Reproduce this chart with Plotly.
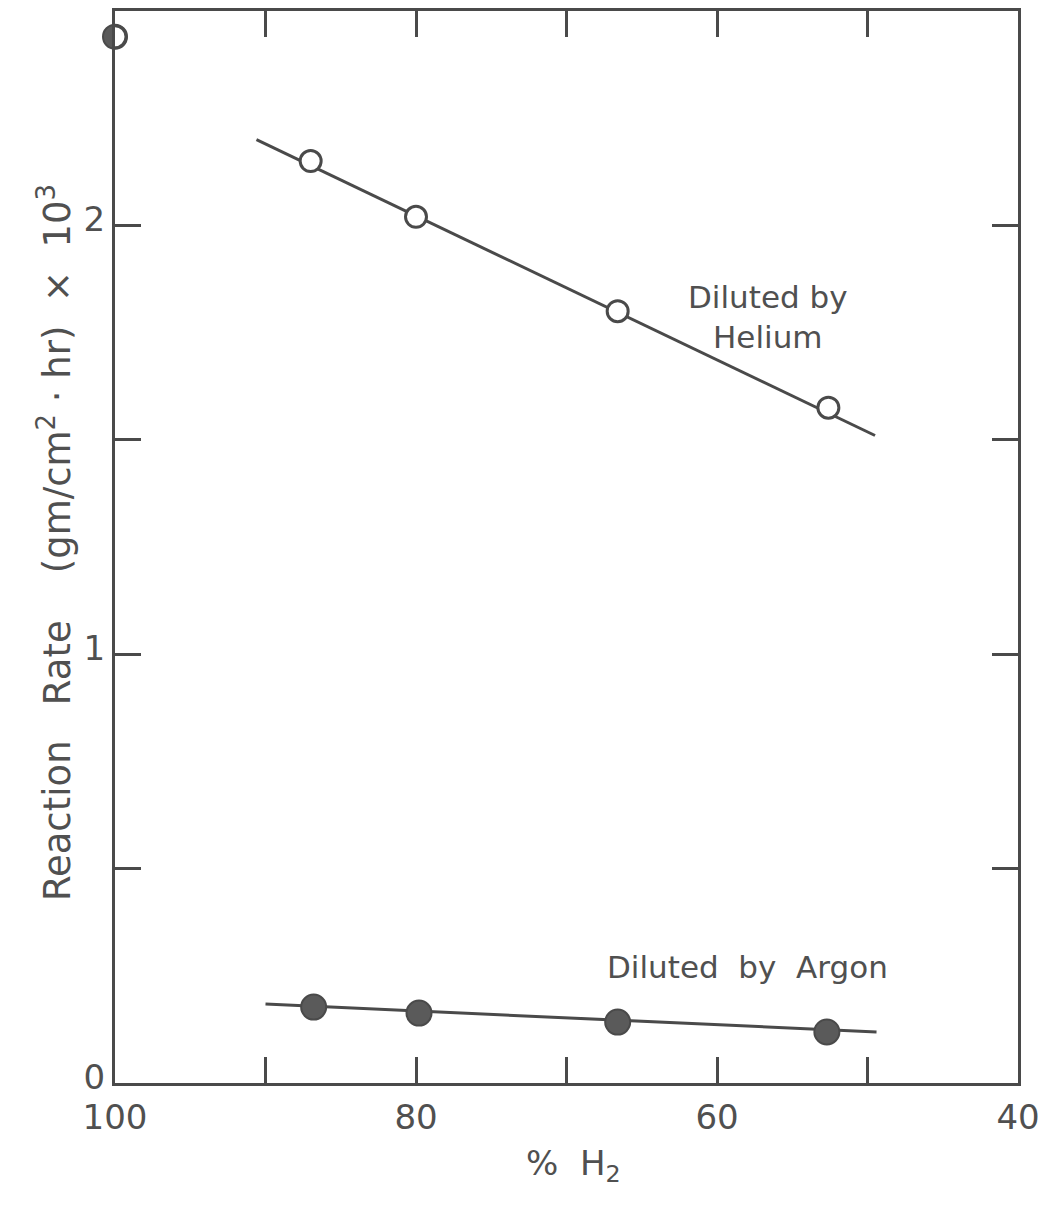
import plotly.graph_objects as go

# Data
helium_x = [87.0, 80.0, 66.6, 52.6]
helium_y = [2.15, 2.02, 1.80, 1.575]
helium_fit_x = [90.6, 49.5]
helium_fit_y = [2.20, 1.51]

argon_x = [86.8, 79.8, 66.6, 52.7]
argon_y = [0.177, 0.163, 0.142, 0.119]
argon_fit_x = [90.0, 49.4]
argon_fit_y = [0.184, 0.119]

pure_x = [100.0]
pure_y = [2.44]

x_tickvals = [100, 90, 80, 70, 60, 50, 40]
x_ticktext = ["100", "", "80", "", "60", "", "40"]
y_tickvals = [0, 0.5, 1, 1.5, 2, 2.5]
y_ticktext = ["0", "", "1", "", "2", ""]

INK = "#4a4a4a"
TXT = "#505050"
FONT = "DejaVu Sans"

fig = go.Figure()

fig.add_trace(go.Scatter(x=helium_fit_x, y=helium_fit_y, mode="lines",
                         line=dict(color=INK, width=3), showlegend=False))
fig.add_trace(go.Scatter(x=argon_fit_x, y=argon_fit_y, mode="lines",
                         line=dict(color=INK, width=3), showlegend=False))
fig.add_trace(go.Scatter(x=helium_x, y=helium_y, mode="markers",
                         marker=dict(symbol="circle", size=21, color="white",
                                     line=dict(color=INK, width=3)),
                         showlegend=False))
fig.add_trace(go.Scatter(x=argon_x, y=argon_y, mode="markers",
                         marker=dict(symbol="circle", size=25, color="#5a5a5a",
                                     line=dict(color=INK, width=2)),
                         showlegend=False))
# half-filled point at 100 % H2: filled circle unclipped, open circle clipped on top
fig.add_trace(go.Scatter(x=pure_x, y=pure_y, mode="markers", cliponaxis=False,
                         marker=dict(symbol="circle", size=24, color="#5a5a5a",
                                     line=dict(color=INK, width=2)),
                         showlegend=False))
fig.add_trace(go.Scatter(x=pure_x, y=pure_y, mode="markers", cliponaxis=True,
                         marker=dict(symbol="circle", size=22, color="white",
                                     line=dict(color=INK, width=3)),
                         showlegend=False))

fig.add_annotation(x=56.6, y=1.786, xref="x", yref="y", xanchor="center", yanchor="middle",
                   text="Diluted by<br>Helium", showarrow=False, align="center",
                   font=dict(family=FONT, size=31, color=TXT))
fig.add_annotation(x=58.0, y=0.27, xref="x", yref="y", xanchor="center", yanchor="middle",
                   text="Diluted  by  Argon", showarrow=False,
                   font=dict(family=FONT, size=31, color=TXT))

# axis titles
fig.add_annotation(x=-0.066, y=0.504, xref="paper", yref="paper", xanchor="center",
                   yanchor="middle", textangle=-90, showarrow=False,
                   text="Reaction   Rate    (gm/cm<sup>2</sup> · hr)  ×  10<sup>3</sup>",
                   font=dict(family=FONT, size=37, color=TXT))
fig.add_annotation(x=0.508, y=-0.077, xref="paper", yref="paper", xanchor="center",
                   yanchor="middle", showarrow=False,
                   text="%  H<sub>2</sub>",
                   font=dict(family=FONT, size=34, color=TXT))

axis_common = dict(showgrid=False, zeroline=False, showline=True, linecolor=INK,
                   linewidth=3, mirror="allticks", ticks="inside", ticklen=26,
                   tickwidth=2.5, tickcolor=INK,
                   tickfont=dict(family=FONT, size=34, color=TXT))

fig.update_xaxes(range=[100, 40], tickmode="array", tickvals=x_tickvals,
                 ticktext=x_ticktext, ticklabelstandoff=2, **axis_common)
fig.update_yaxes(range=[0, 2.5], tickmode="array", tickvals=y_tickvals,
                 ticktext=y_ticktext, ticklabelshift=-6, **axis_common)

fig.update_layout(width=1057, height=1207, plot_bgcolor="white", paper_bgcolor="white",
                  margin=dict(l=115, r=39, t=8, b=124))

fig.write_html("out.html")
